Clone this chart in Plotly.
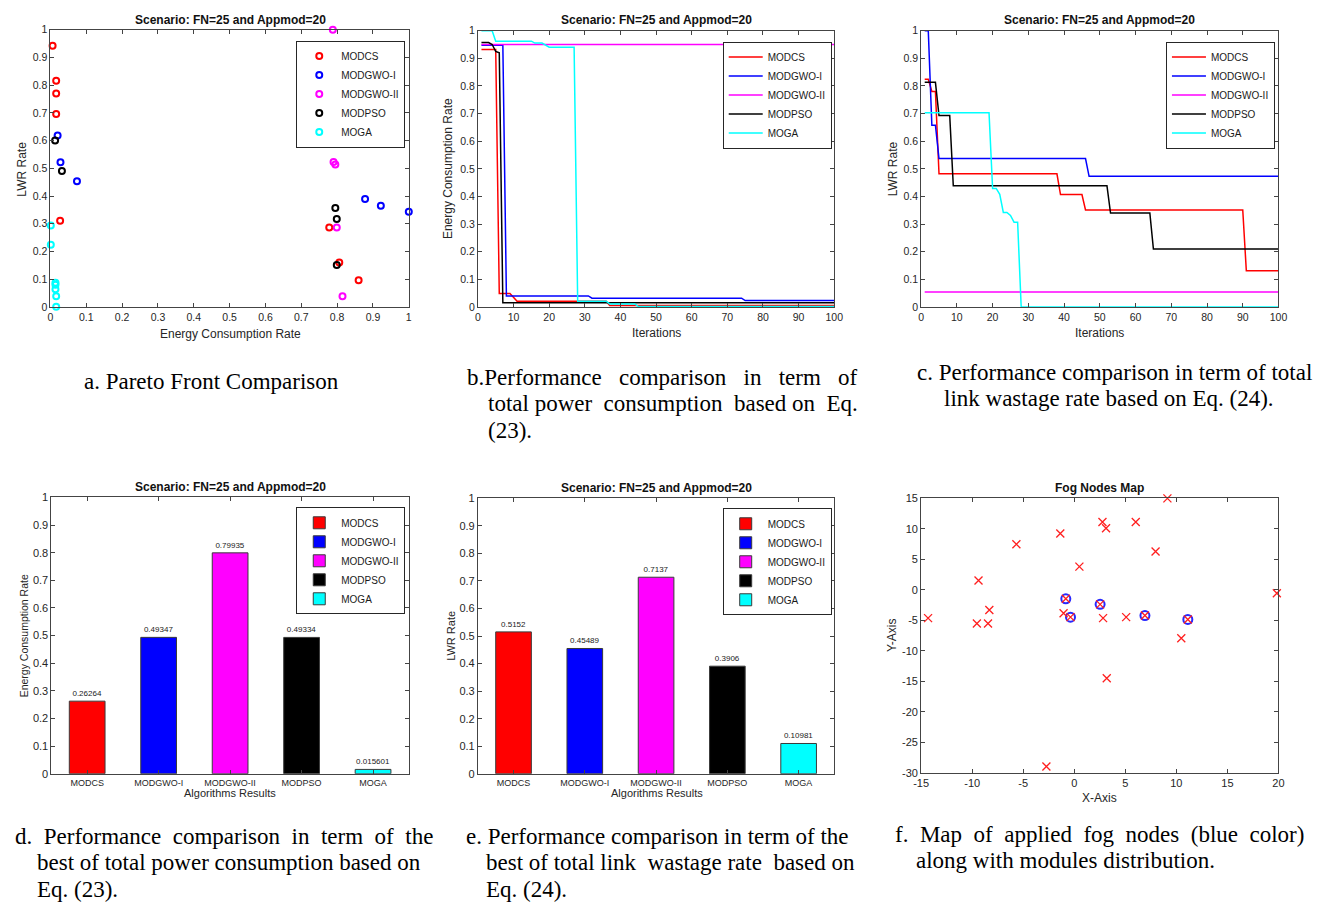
import plotly.graph_objects as go

W, H = 1325, 908

algorithms = ["MODCS", "MODGWO-I", "MODGWO-II", "MODPSO", "MOGA"]
algo_colors = ["rgb(255,0,0)", "rgb(0,0,255)", "rgb(255,0,255)", "rgb(0,0,0)", "rgb(0,255,255)"]

# ---- a. Pareto fronts (energy consumption rate, LWR rate) ----
modcs_pf_energy = [0.006, 0.016, 0.016, 0.016, 0.027, 0.778, 0.806, 0.860]
modcs_pf_lwr = [0.942, 0.816, 0.770, 0.696, 0.311, 0.287, 0.160, 0.096]
modgwo1_pf_energy = [0.020, 0.028, 0.074, 0.878, 0.922, 1.000]
modgwo1_pf_lwr = [0.618, 0.522, 0.453, 0.389, 0.365, 0.343]
modgwo2_pf_energy = [0.788, 0.790, 0.795, 0.799, 0.815]
modgwo2_pf_lwr = [1.000, 0.523, 0.514, 0.287, 0.039]
modpso_pf_energy = [0.013, 0.032, 0.795, 0.799, 0.799]
modpso_pf_lwr = [0.600, 0.490, 0.357, 0.317, 0.151]
moga_pf_energy = [0.001, 0.001, 0.014, 0.014, 0.014, 0.016, 0.016]
moga_pf_lwr = [0.294, 0.224, 0.087, 0.080, 0.064, 0.039, 0.001]

# ---- b. energy consumption rate per iteration (change points) ----
modcs_ec_iter = [1, 5, 6, 9, 11, 36, 37, 100]
modcs_ec = [0.932, 0.932, 0.049, 0.049, 0.021, 0.021, 0.005, 0.005]
modgwo1_ec_iter = [1, 7, 8, 31, 32, 74, 75, 100]
modgwo1_ec = [0.947, 0.947, 0.040, 0.040, 0.032, 0.032, 0.023, 0.023]
modgwo2_ec_iter = [1, 100]
modgwo2_ec = [0.950, 0.950]
modpso_ec_iter = [1, 3, 4, 5, 6, 7, 100]
modpso_ec = [0.957, 0.957, 0.950, 0.925, 0.920, 0.015, 0.015]
moga_ec_iter = [1, 4, 5, 15, 16, 18, 20, 27, 28, 36, 37, 44, 45, 100]
moga_ec = [1.000, 1.000, 0.962, 0.962, 0.955, 0.955, 0.940, 0.940,
           0.021, 0.021, 0.011, 0.011, 0.002, 0.002]

# ---- c. link wastage rate per iteration (change points) ----
modcs_lwr_iter = [1, 2, 3, 4, 5, 38, 39, 45, 46, 90, 91, 100]
modcs_lwr = [0.824, 0.824, 0.780, 0.780, 0.482, 0.482, 0.407, 0.407, 0.351, 0.351, 0.131, 0.131]
modgwo1_lwr_iter = [1, 2, 3, 4, 5, 46, 47, 100]
modgwo1_lwr = [1.000, 1.000, 0.658, 0.658, 0.537, 0.537, 0.473, 0.473]
modgwo2_lwr_iter = [1, 100]
modgwo2_lwr = [0.054, 0.054]
modpso_lwr_iter = [1, 4, 5, 8, 9, 52, 53, 64, 65, 100]
modpso_lwr = [0.813, 0.813, 0.693, 0.693, 0.439, 0.439, 0.340, 0.340, 0.210, 0.210]
moga_lwr_iter = [1, 19, 20, 21, 22, 23, 24, 25, 26, 27, 28, 100]
moga_lwr = [0.703, 0.703, 0.429, 0.429, 0.408, 0.342, 0.342, 0.331, 0.307, 0.307, 0.000, 0.000]

# ---- d / e. best results ----
best_energy = [0.26264, 0.49347, 0.79935, 0.49334, 0.015601]
best_lwr = [0.5152, 0.45489, 0.7137, 0.3906, 0.10981]

# ---- f. fog node positions ----
node_x = [9.12, 2.76, 3.11, 6.02, -1.37, -5.67, 7.96, 0.50, -9.38, 19.84, -0.83, 2.53, -8.32,
          -1.05, 6.92, -14.32, -0.37, 2.82, 5.08, 11.12, -9.54, -8.45, 10.48, 3.18, -2.73]
node_y = [15.00, 11.13, 10.10, 11.13, 9.24, 7.47, 6.28, 3.81, 1.54, -0.55, -1.47, -2.38, -3.30,
          -3.84, -4.21, -4.64, -4.48, -4.64, -4.48, -4.86, -5.51, -5.51, -7.93, -14.49, -28.97]
applied_x = [-0.83, 2.53, -0.37, 6.92, 11.12]
applied_y = [-1.47, -2.38, -4.48, -4.21, -4.86]
map_xticks = [-15, -10, -5, 0, 5, 10, 15, 20]
map_yticks = [-30, -25, -20, -15, -10, -5, 0, 5, 10, 15]

pf_energy = [modcs_pf_energy, modgwo1_pf_energy, modgwo2_pf_energy, modpso_pf_energy, moga_pf_energy]
pf_lwr = [modcs_pf_lwr, modgwo1_pf_lwr, modgwo2_pf_lwr, modpso_pf_lwr, moga_pf_lwr]
ec_iter = [modcs_ec_iter, modgwo1_ec_iter, modgwo2_ec_iter, modpso_ec_iter, moga_ec_iter]
ec_vals = [modcs_ec, modgwo1_ec, modgwo2_ec, modpso_ec, moga_ec]
lwr_iter = [modcs_lwr_iter, modgwo1_lwr_iter, modgwo2_lwr_iter, modpso_lwr_iter, moga_lwr_iter]
lwr_vals = [modcs_lwr, modgwo1_lwr, modgwo2_lwr, modpso_lwr, moga_lwr]


def px(x):
    return x / W


def py(y):
    return 1 - y / H


fig = go.Figure()

# a. Pareto front scatter
for name, col, ex, ly in zip(algorithms, algo_colors, pf_energy, pf_lwr):
    fig.add_trace(go.Scatter(
        x=ex, y=ly, mode="markers", name=name, legend="legend",
        marker=dict(symbol="circle-open", size=6, color=col, line=dict(width=2, color=col)),
        cliponaxis=False, xaxis="x", yaxis="y"))

# b. energy convergence
for name, col, it, v in zip(algorithms, algo_colors, ec_iter, ec_vals):
    fig.add_trace(go.Scatter(
        x=it, y=v, mode="lines", name=name, legend="legend2",
        line=dict(color=col, width=1.5), cliponaxis=False, xaxis="x2", yaxis="y2"))

# c. LWR convergence
for name, col, it, v in zip(algorithms, algo_colors, lwr_iter, lwr_vals):
    fig.add_trace(go.Scatter(
        x=it, y=v, mode="lines", name=name, legend="legend3",
        line=dict(color=col, width=1.5), cliponaxis=False, xaxis="x3", yaxis="y3"))

# d / e. bar comparisons
for vals, lg, xa, ya in [(best_energy, "legend4", "x4", "y4"), (best_lwr, "legend5", "x5", "y5")]:
    for i, (name, col, v) in enumerate(zip(algorithms, algo_colors, vals)):
        fig.add_trace(go.Bar(
            x=[i + 1], y=[v], name=name, legend=lg, width=0.5,
            marker=dict(color=col, line=dict(color="#3a3a3a", width=1)),
            text=[f"{v:g}"], textposition="outside", constraintext="none",
            textfont=dict(size=8, color="#1a1a1a"), cliponaxis=False,
            xaxis=xa, yaxis=ya))

# f. fog nodes map
fig.add_trace(go.Scatter(
    x=applied_x, y=applied_y, mode="markers", showlegend=False,
    marker=dict(symbol="circle-open", size=9, color="rgb(40,40,255)", line=dict(width=2)),
    cliponaxis=False, xaxis="x6", yaxis="y6"))
fig.add_trace(go.Scatter(
    x=node_x, y=node_y, mode="markers", showlegend=False,
    marker=dict(symbol="x-thin-open", size=8, color="rgb(255,30,30)", line=dict(width=1.3)),
    cliponaxis=False, xaxis="x6", yaxis="y6"))

AX = "#444444"
base_axis = dict(showline=True, linecolor=AX, linewidth=1, mirror="ticks", ticks="inside",
                 ticklen=4, tickcolor=AX, showgrid=False, zeroline=False,
                 tickfont=dict(size=10.5, color="#262626"))

# plot-area rectangles in pixels: (left, top, right, bottom)
boxes = [
    (43, 24, 406, 305),
    (476, 25, 837, 305),
    (925, 25, 1287, 305),
    (44, 498, 406, 778),
    (476, 499, 837, 778),
    (925, 499, 1287, 777),
]

layout_axes = {}
for k, (l, t, r, b) in enumerate(boxes, start=1):
    sx = "" if k == 1 else str(k)
    xa = dict(base_axis, domain=[px(l), px(r)], anchor="y" + sx)
    ya = dict(base_axis, domain=[py(b), py(t)], anchor="x" + sx)
    if k == 1:
        xa.update(range=[0, 1], tick0=0, dtick=0.1)
        ya.update(range=[0, 1], tick0=0, dtick=0.1)
    elif k in (2, 3):
        xa.update(range=[0, 100], tick0=0, dtick=10)
        ya.update(range=[0, 1], tick0=0, dtick=0.1)
    elif k in (4, 5):
        xa.update(range=[0.5, 5.5], tickmode="array", tickvals=[1, 2, 3, 4, 5],
                  ticktext=algorithms, tickfont=dict(size=9, color="#262626"))
        ya.update(range=[0, 1], tick0=0, dtick=0.1, tickfont=dict(size=11, color="#262626"))
    else:
        xa.update(range=[-15, 20], tickmode="array", tickvals=map_xticks,
                  ticktext=[str(v) for v in map_xticks], tickfont=dict(size=11, color="#262626"))
        ya.update(range=[-30, 15], tickmode="array", tickvals=map_yticks,
                  ticktext=[str(v) for v in map_yticks], tickfont=dict(size=11, color="#262626"))
    layout_axes["xaxis" + sx] = xa
    layout_axes["yaxis" + sx] = ya

legend_base = dict(bgcolor="white", bordercolor="#262626", borderwidth=1,
                   font=dict(size=10, color="#1a1a1a", family="Liberation Sans"),
                   xanchor="left", yanchor="top", tracegroupgap=0, itemwidth=34,
                   itemclick=False, itemdoubleclick=False)
legends = {
    "legend": dict(legend_base, x=px(292), y=py(35)),
    "legend2": dict(legend_base, x=px(724), y=py(36)),
    "legend3": dict(legend_base, x=px(1173), y=py(36)),
    "legend4": dict(legend_base, x=px(292), y=py(508)),
    "legend5": dict(legend_base, x=px(724), y=py(509)),
}

annotations = []


def label(text, x, y, size=12, bold=False, angle=0, color="#262626"):
    annotations.append(dict(
        text=f"<b>{text}</b>" if bold else text, x=px(x), y=py(y), xref="paper", yref="paper",
        showarrow=False, xanchor="center", yanchor="middle", textangle=angle,
        font=dict(size=size, color=color, family="Liberation Sans")))


scenario = "Scenario: FN=25 and Appmod=20"
label(scenario, 225, 14, 12, True, color="#111")
label(scenario, 657, 14, 12, True, color="#111")
label(scenario, 1106, 14, 12, True, color="#111")
label(scenario, 225, 487, 12, True, color="#111")
label(scenario, 657, 488, 12, True, color="#111")
label("Fog Nodes Map", 1106, 488, 12, True, color="#111")

label("Energy Consumption Rate", 225, 332, 12)
label("Iterations", 657, 331, 12)
label("Iterations", 1106, 331, 12)
label("Algorithms Results", 225, 798, 11)
label("Algorithms Results", 657, 798, 11)
label("X-Axis", 1106, 803, 12)

label("LWR Rate", 14, 165, 12, angle=-90)
label("Energy Consumption Rate", 446, 165, 12, angle=-90)
label("LWR Rate", 896, 165, 12, angle=-90)
label("Energy Consumption Rate", 16, 638, 10.5, angle=-90)
label("LWR Rate", 448, 638, 11, angle=-90)
label("Y-Axis", 895, 638, 12, angle=-90)


def spaced(text, n):
    # widen word gaps of a justified caption line; "_" marks one extra space
    return text.replace(" ", " " + "\u00a0" * (n - 1)).replace("_", "\u00a0")


captions = [
    ("a. Pareto Front Comparison", 1, 75, 381),
    ("b.Performance comparison in term of", 3, 463, 376),
    ("total power _consumption _based on _Eq.", 1, 484, 403),
    ("(23).", 1, 484, 430),
    ("c. Performance comparison in term of total", 1, 919, 371),
    ("link wastage rate based on Eq. (24).", 1, 946, 398),
    ("d. Performance comparison in term of the", 2, 5, 842),
    ("best of total power consumption based on", 1, 27, 868),
    ("Eq. (23).", 1, 27, 895),
    ("e. Performance comparison in term of the", 1, 462, 842),
    ("best of total link _wastage rate _based on", 1, 482, 868),
    ("Eq. (24).", 1, 482, 895),
    ("f. Map of applied fog nodes (blue color)", 2, 897, 840),
    ("along with modules distribution.", 1, 918, 866),
]
for text, n, x, y in captions:
    annotations.append(dict(
        text=spaced(text, n), x=px(x), y=py(y), xref="paper", yref="paper",
        showarrow=False, xanchor="left", yanchor="middle",
        font=dict(size=23, color="black", family="Liberation Serif")))

fig.update_layout(
    width=W, height=H, margin=dict(l=0, r=0, t=0, b=0),
    paper_bgcolor="white", plot_bgcolor="white",
    font=dict(family="Liberation Sans", color="#262626"),
    barmode="overlay", annotations=annotations, **layout_axes, **legends)

fig.write_html("out.html")
